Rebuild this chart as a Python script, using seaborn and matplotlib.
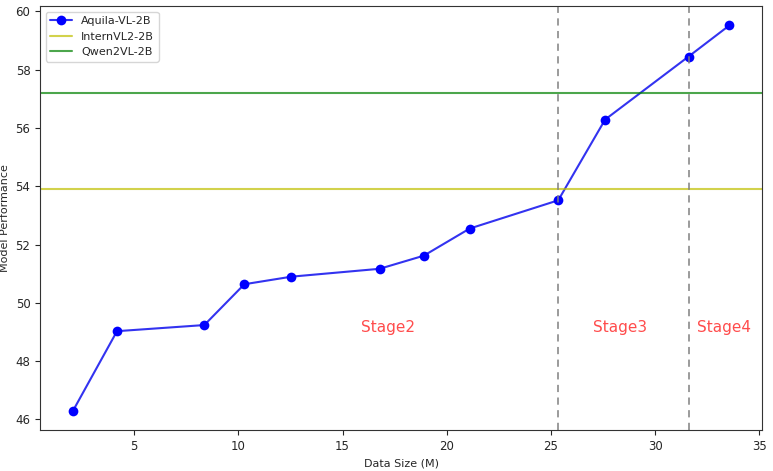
import pandas as pd
import matplotlib
matplotlib.use("Agg")
import matplotlib.pyplot as plt
import seaborn as sns

# Dados
data_size = [2.07, 4.18, 8.37, 10.29, 12.55, 16.78, 18.9, 21.1, 25.35, 27.6, 31.6, 33.56]
performance = [46.3, 49.03, 49.24, 50.64, 50.9, 51.17, 51.62, 52.55, 53.52, 56.29, 58.45, 59.52]

internvl_score = 53.9
qwen_score = 57.2

stage_bounds = [25.35, 31.6]
stage_labels = ["Stage2", "Stage3", "Stage4"]
stage_x = [17.2, 28.3, 33.3]
stage_y = 49.15


def plotar_desempenho(output: str = "out.png") -> None:
    sns.set_style("ticks")
    plt.rcParams["font.family"] = ["DejaVu Sans"]

    df = pd.DataFrame({"data_size": data_size, "performance": performance})

    fig, ax = plt.subplots(figsize=(7.73, 4.71), dpi=100)
    fig.subplots_adjust(left=0.052, right=0.986, top=0.987, bottom=0.087)

    sns.lineplot(
        data=df, x="data_size", y="performance", ax=ax,
        color="#3333f0", marker="o", markersize=7,
        markerfacecolor="blue", markeredgecolor="blue", markeredgewidth=0,
        linewidth=1.5, label="Aquila-VL-2B",
    )

    ax.axhline(internvl_score, color="y", alpha=0.7, linewidth=1.5, label="InternVL2-2B")
    ax.axhline(qwen_score, color="g", alpha=0.7, linewidth=1.5, label="Qwen2VL-2B")

    for xb in stage_bounds:
        ax.axvline(xb, color="gray", alpha=0.85, linestyle=(0, (4, 3)), linewidth=1.3)

    for txt, xs in zip(stage_labels, stage_x):
        ax.text(xs, stage_y, txt, color="red", alpha=0.7, fontsize=11,
                ha="center", va="center")

    ax.set_xlabel("Data Size (M)", fontsize=8)
    ax.set_ylabel("Model Performance", fontsize=8)
    ax.tick_params(labelsize=8.5)
    for s in ax.spines.values():
        s.set_visible(True)
        s.set_color("#333333")

    ax.legend(loc="upper left", fontsize=8)

    fig.savefig(output, dpi=100)
    plt.close(fig)


if __name__ == "__main__":
    plotar_desempenho()
